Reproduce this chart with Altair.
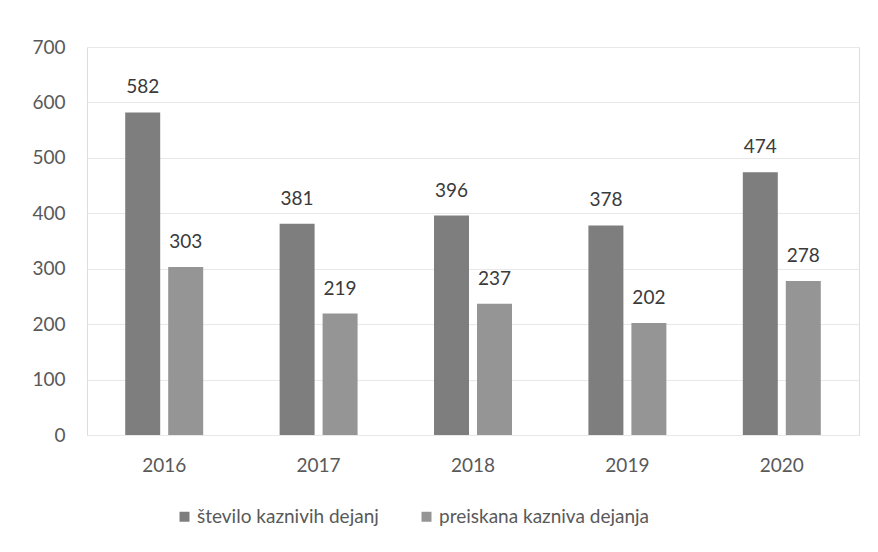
import altair as alt
import pandas as pd

years = ["2016", "2017", "2018", "2019", "2020"]
series_names = ["število kaznivih dejanj", "preiskana kazniva dejanja"]
stevilo = [582, 381, 396, 378, 474]
preiskana = [303, 219, 237, 202, 278]

rows = []
for i, y in enumerate(years):
    rows.append({"year": y, "series": series_names[0], "value": stevilo[i]})
    rows.append({"year": y, "series": series_names[1], "value": preiskana[i]})
df = pd.DataFrame(rows)

FONT = "Lato"

x = alt.X("year:N", sort=years, title=None,
          scale=alt.Scale(paddingInner=0.495, paddingOuter=0.2475),
          axis=alt.Axis(labelAngle=0, ticks=False, domain=False, labelPadding=21,
                        labelFontSize=19, labelColor="#595959", labelFont=FONT))
xoff = alt.XOffset("series:N", sort=series_names,
                   scale=alt.Scale(paddingInner=0.186, paddingOuter=0))
y = alt.Y("value:Q", title=None,
          scale=alt.Scale(domain=[0, 700], nice=False),
          axis=alt.Axis(values=[0, 100, 200, 300, 400, 500, 600, 700], ticks=False,
                        domain=False, labelPadding=22, labelFontSize=19,
                        labelColor="#595959", labelFont=FONT,
                        grid=True, gridColor="#e8e8e8", gridWidth=1))

base = alt.Chart(df)

bars = base.mark_bar().encode(
    x=x, xOffset=xoff, y=y,
    color=alt.Color("series:N", sort=series_names,
                    scale=alt.Scale(domain=series_names, range=["#7e7e7e", "#959595"]),
                    legend=alt.Legend(title=None, orient="none", direction="horizontal",
                                      legendX=88, legendY=460, symbolType="square",
                                      symbolSize=100, labelFontSize=19, labelFont=FONT,
                                      labelColor="#595959", columnPadding=38,
                                      labelOffset=3, labelLimit=0,
                                      symbolStrokeWidth=0)),
)

labels = base.mark_text(baseline="bottom", dy=-15, fontSize=19, font=FONT,
                        color="#3a3a3a").encode(
    x=x, xOffset=xoff, y=y, text=alt.Text("value:Q"),
)

chart = alt.layer(bars, labels).properties(
    width=772, height=388,
    autosize=alt.AutoSizeParams(type="none"),
    padding={"left": 79, "top": 39, "right": 11, "bottom": 109},
).configure_view(stroke=None).configure(background="white")

chart.save("out.html", embed_options={"renderer": "svg", "actions": False})
